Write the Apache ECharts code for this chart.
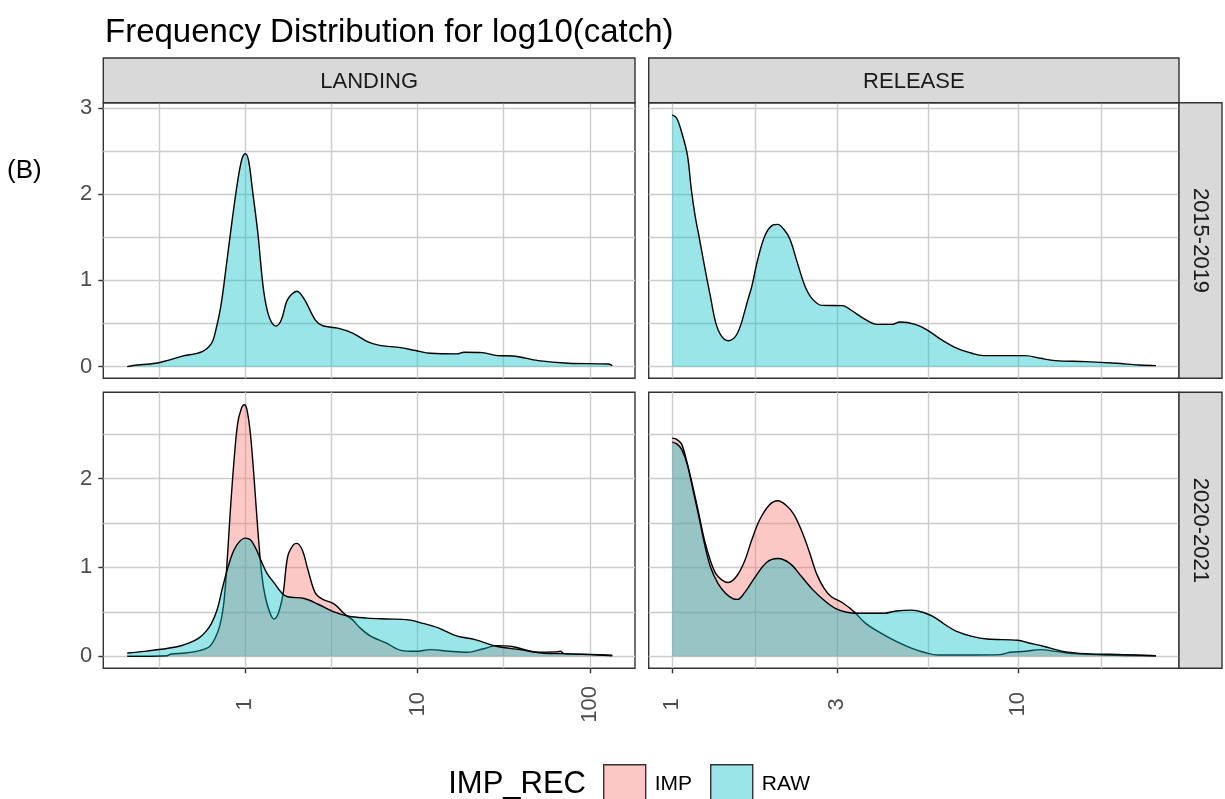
<!DOCTYPE html>
<html>
<head>
<meta charset="utf-8">
<title>Frequency Distribution for log10(catch)</title>
<script src="https://cdn.jsdelivr.net/npm/echarts@6/dist/echarts.min.js"></script>
<style>
  html, body { margin: 0; padding: 0; background: #ffffff; }
  #chart { width: 1225px; height: 799px; }
</style>
</head>
<body>
<div id="chart"></div>
<script>
// Density of log10(catch) by disposition (columns) and period (rows),
// imputed (IMP) versus raw (RAW) records.
const columns = ['LANDING', 'RELEASE'];
const periods = ['2015-2019', '2020-2021'];
const groups = ['IMP', 'RAW'];

// Breaks on the catch scale (log10 axis); gridlines also sit halfway between breaks
const landingBreaks = [0.1, 1, 10, 100, 1000];
const releaseBreaks = [1, 3, 10, 30];
const landingLabels = [1, 10, 100];
const releaseLabels = [1, 3, 10];
const densityBreaks = [0, 1, 2, 3];

// Each point: [log10(catch), density]
const landingRaw1519 = [
  [-0.685, 0.0], [-0.65, 0.014], [-0.52, 0.04], [-0.455, 0.07], [-0.37, 0.12],
  [-0.25, 0.175], [-0.196, 0.27], [-0.175, 0.39], [-0.142, 0.70], [-0.11, 1.17],
  [-0.078, 1.67], [-0.045, 2.14], [-0.019, 2.41], [0.0, 2.47], [0.019, 2.39],
  [0.041, 2.06], [0.073, 1.55], [0.106, 0.89], [0.138, 0.58], [0.177, 0.47],
  [0.209, 0.54], [0.246, 0.78], [0.30, 0.875], [0.343, 0.78], [0.407, 0.54],
  [0.45, 0.474], [0.537, 0.447], [0.623, 0.39], [0.709, 0.29], [0.774, 0.25],
  [0.903, 0.22], [0.989, 0.187], [1.075, 0.155], [1.226, 0.148], [1.27, 0.167],
  [1.377, 0.163], [1.463, 0.128], [1.55, 0.124], [1.70, 0.07], [1.873, 0.04],
  [2.11, 0.03], [2.13, 0.012]
];
const releaseRaw1519 = [
  [0.0, 2.92], [0.013, 2.88], [0.027, 2.72], [0.044, 2.45], [0.055, 2.06],
  [0.066, 1.75], [0.077, 1.52], [0.093, 1.17], [0.11, 0.82], [0.126, 0.505],
  [0.143, 0.35], [0.162, 0.30], [0.175, 0.32], [0.186, 0.37], [0.197, 0.47],
  [0.208, 0.62], [0.219, 0.78], [0.23, 0.93], [0.247, 1.24], [0.268, 1.52],
  [0.29, 1.64], [0.305, 1.65], [0.323, 1.59], [0.34, 1.48], [0.362, 1.20],
  [0.384, 0.93], [0.406, 0.78], [0.433, 0.71], [0.493, 0.707], [0.515, 0.66],
  [0.559, 0.544], [0.592, 0.49], [0.636, 0.49], [0.658, 0.517], [0.702, 0.49],
  [0.735, 0.43], [0.779, 0.31], [0.822, 0.214], [0.866, 0.155], [0.899, 0.128],
  [1.02, 0.128], [1.064, 0.097], [1.107, 0.07], [1.195, 0.058], [1.283, 0.039],
  [1.349, 0.019], [1.398, 0.012]
];
const landingImp2021 = [
  [-0.685, 0.0], [-0.455, 0.007], [-0.43, 0.026], [-0.347, 0.037], [-0.26, 0.067],
  [-0.207, 0.11], [-0.175, 0.205], [-0.149, 0.336], [-0.127, 0.56], [-0.11, 0.93],
  [-0.088, 1.60], [-0.067, 2.16], [-0.045, 2.61], [-0.024, 2.78], [-0.006, 2.83],
  [0.009, 2.78], [0.03, 2.5], [0.052, 1.98], [0.073, 1.42], [0.095, 0.93],
  [0.116, 0.67], [0.144, 0.485], [0.166, 0.42], [0.192, 0.485], [0.22, 0.71],
  [0.246, 1.12], [0.278, 1.25], [0.30, 1.27], [0.332, 1.19], [0.364, 0.97],
  [0.407, 0.71], [0.45, 0.64], [0.515, 0.59], [0.58, 0.47], [0.623, 0.41],
  [0.666, 0.32], [0.73, 0.224], [0.817, 0.15], [0.903, 0.067], [0.989, 0.056],
  [1.075, 0.075], [1.183, 0.056], [1.29, 0.045], [1.377, 0.082], [1.463, 0.12],
  [1.55, 0.11], [1.70, 0.045], [1.80, 0.05], [1.83, 0.056], [1.85, 0.03],
  [2.0, 0.022], [2.13, 0.011]
];
const landingRaw2021 = [
  [-0.685, 0.037], [-0.584, 0.056], [-0.476, 0.082], [-0.39, 0.11], [-0.325, 0.15],
  [-0.27, 0.205], [-0.228, 0.28], [-0.196, 0.37], [-0.164, 0.52], [-0.131, 0.78],
  [-0.099, 1.01], [-0.067, 1.19], [-0.034, 1.29], [0.0, 1.33], [0.03, 1.31],
  [0.062, 1.21], [0.095, 1.06], [0.127, 0.93], [0.17, 0.82], [0.213, 0.71],
  [0.246, 0.67], [0.343, 0.65], [0.429, 0.58], [0.515, 0.50], [0.601, 0.45],
  [0.709, 0.43], [0.817, 0.42], [0.946, 0.41], [1.032, 0.37], [1.12, 0.32],
  [1.226, 0.23], [1.334, 0.187], [1.463, 0.11], [1.593, 0.075], [1.722, 0.037],
  [1.83, 0.03], [2.0, 0.019], [2.13, 0.007]
];
const releaseImp2021 = [
  [0.0, 2.455], [0.013, 2.44], [0.027, 2.39], [0.044, 2.16], [0.06, 1.90],
  [0.077, 1.60], [0.093, 1.31], [0.11, 1.08], [0.126, 0.93], [0.143, 0.86],
  [0.162, 0.83], [0.186, 0.90], [0.208, 1.06], [0.23, 1.31], [0.252, 1.53],
  [0.28, 1.70], [0.305, 1.75], [0.329, 1.70], [0.351, 1.60], [0.373, 1.42],
  [0.395, 1.19], [0.417, 0.93], [0.439, 0.765], [0.46, 0.67], [0.493, 0.60],
  [0.526, 0.50], [0.559, 0.37], [0.603, 0.26], [0.647, 0.168], [0.691, 0.093],
  [0.735, 0.037], [0.768, 0.015], [0.866, 0.015], [0.948, 0.019], [0.976, 0.045],
  [1.02, 0.056], [1.064, 0.075], [1.107, 0.056], [1.162, 0.03], [1.25, 0.015],
  [1.398, 0.007]
];
const releaseRaw2021 = [
  [0.0, 2.41], [0.013, 2.39], [0.027, 2.33], [0.044, 2.15], [0.06, 1.87],
  [0.077, 1.57], [0.093, 1.27], [0.11, 1.01], [0.132, 0.82], [0.154, 0.71],
  [0.175, 0.65], [0.189, 0.64], [0.208, 0.71], [0.241, 0.90], [0.274, 1.06],
  [0.305, 1.10], [0.34, 1.045], [0.373, 0.90], [0.406, 0.75], [0.439, 0.63],
  [0.471, 0.54], [0.504, 0.496], [0.537, 0.485], [0.614, 0.485], [0.647, 0.51],
  [0.691, 0.52], [0.724, 0.496], [0.757, 0.44], [0.789, 0.355], [0.822, 0.28],
  [0.866, 0.224], [0.91, 0.194], [0.998, 0.18], [1.031, 0.15], [1.075, 0.11],
  [1.129, 0.056], [1.195, 0.03], [1.305, 0.019], [1.398, 0.007]
];

// panel data: [row][col] -> { group: points }
const panels = [
  [{ RAW: landingRaw1519 }, { RAW: releaseRaw1519 }],
  [{ IMP: landingImp2021, RAW: landingRaw2021 }, { IMP: releaseImp2021, RAW: releaseRaw2021 }]
];

// ---- layout & style ----
const FONT = '"Liberation Sans", Arial, Helvetica, sans-serif';
const colX = [103.3, 648.7], colW = [531.7, 530.3];
const rowY = [102.7, 392.3], rowH = [275.6, 276];
const stripTop = 58, stripW = 43;
const xRange = [[-0.824, 2.262], [-0.068, 1.4645]];
const yRange = [[-0.135, 3.06], [-0.135, 2.97]];
const BORDER = '#333333', GRID = '#CCCCCC', AXIS_TEXT = '#4D4D4D';
const FILL = { IMP: 'rgba(248,118,109,0.4)', RAW: 'rgba(0,191,196,0.4)' };

const inRange = (vals, r) => vals.filter(v => v >= r[0] - 1e-9 && v <= r[1] + 1e-9);
function withMidpoints(majors) {
  const out = majors.slice();
  for (let i = 0; i + 1 < majors.length; i++) out.push((majors[i] + majors[i + 1]) / 2);
  return out.sort((a, b) => a - b);
}
const xBreaks = [landingBreaks, releaseBreaks].map(b => b.map(Math.log10));
const xLabelVals = [landingLabels, releaseLabels].map(b => b.map(Math.log10));
const hiddenLine = { show: false, onZero: false };

const grids = [], xAxes = [], yAxes = [], series = [], tickX = [], tickY = [];
for (let r = 0; r < 2; r++) {
  for (let c = 0; c < 2; c++) {
    const i = r * 2 + c;
    grids.push({
      left: colX[c], top: rowY[r], width: colW[c], height: rowH[r],
      show: true, backgroundColor: '#ffffff', borderColor: BORDER, borderWidth: 1.4,
      containLabel: false, outerBoundsMode: 'none'
    });
    const xr = xRange[c], yr = yRange[r];
    const xGrid = inRange(withMidpoints(xBreaks[c]), xr);
    const xLab = inRange(xLabelVals[c], xr);
    const yGrid = inRange(withMidpoints(densityBreaks), yr);
    const yLab = inRange(densityBreaks, yr);

    xAxes.push({
      type: 'value', gridIndex: i, min: xr[0], max: xr[1], position: 'bottom',
      axisLine: hiddenLine,
      axisTick: { show: false, customValues: xGrid },
      splitLine: { show: true, lineStyle: { color: GRID, width: 1.4 } },
      axisLabel: r === 1 ? {
        show: true, customValues: xLab, rotate: 90, margin: 36,
        align: 'center', verticalAlign: 'middle',
        fontSize: 22, fontFamily: FONT, color: AXIS_TEXT,
        formatter: v => String(Math.round(Math.pow(10, v)))
      } : { show: false }
    });
    yAxes.push({
      type: 'value', gridIndex: i, min: yr[0], max: yr[1], position: 'left',
      axisLine: hiddenLine,
      axisTick: { show: false, customValues: yGrid },
      splitLine: { show: true, lineStyle: { color: GRID, width: 1.4 } },
      axisLabel: c === 0 ? {
        show: true, customValues: yLab, margin: 11,
        fontSize: 22, fontFamily: FONT, color: AXIS_TEXT,
        formatter: v => String(v)
      } : { show: false }
    });
    if (r === 1) tickX.push({ i, xr, vals: xLab });
    if (c === 0) tickY.push({ i, yr, vals: yLab });

    for (const g of groups) {
      const pts = panels[r][c][g];
      if (!pts) continue;
      series.push({
        type: 'line', name: g, data: pts, xAxisIndex: i, yAxisIndex: i,
        symbol: 'none', showSymbol: false, smooth: 0.35,
        lineStyle: { color: '#000000', width: 1.4 },
        itemStyle: { color: FILL[g] },
        areaStyle: { color: FILL[g], opacity: 1 },
        z: g === 'RAW' ? 3 : 2, silent: true
      });
    }
  }
}
// separate axes carrying only the outward tick marks at labelled breaks
for (const t of tickX) {
  xAxes.push({
    type: 'value', gridIndex: t.i, min: t.xr[0], max: t.xr[1], position: 'bottom',
    axisLine: hiddenLine, splitLine: { show: false }, axisLabel: { show: false },
    axisTick: { show: true, length: 5, customValues: t.vals, lineStyle: { color: BORDER, width: 1.4 } }
  });
}
for (const t of tickY) {
  yAxes.push({
    type: 'value', gridIndex: t.i, min: t.yr[0], max: t.yr[1], position: 'left',
    axisLine: hiddenLine, splitLine: { show: false }, axisLabel: { show: false },
    axisTick: { show: true, length: 5, customValues: t.vals, lineStyle: { color: BORDER, width: 1.4 } }
  });
}

// facet strips
const graphics = [];
columns.forEach((name, c) => {
  graphics.push({
    type: 'rect', shape: { x: colX[c], y: stripTop, width: colW[c], height: rowY[0] - stripTop },
    style: { fill: '#D9D9D9', stroke: BORDER, lineWidth: 1.4 }, z: 10
  });
  graphics.push({
    type: 'text', x: colX[c] + colW[c] / 2, y: (stripTop + rowY[0]) / 2 + 2,
    style: { text: name, align: 'center', verticalAlign: 'middle', fontSize: 22, fontFamily: FONT, fill: '#1A1A1A' }, z: 11
  });
});
periods.forEach((name, r) => {
  const sx = colX[1] + colW[1];
  graphics.push({
    type: 'rect', shape: { x: sx, y: rowY[r], width: stripW, height: rowH[r] },
    style: { fill: '#D9D9D9', stroke: BORDER, lineWidth: 1.4 }, z: 10
  });
  graphics.push({
    type: 'text', x: sx + stripW / 2, y: rowY[r] + rowH[r] / 2, rotation: -Math.PI / 2,
    style: { text: name, align: 'center', verticalAlign: 'middle', fontSize: 22, fontFamily: FONT, fill: '#1A1A1A' }, z: 11
  });
});
// tag and legend title
graphics.push({
  type: 'text', x: 7, y: 171,
  style: { text: '(B)', align: 'left', verticalAlign: 'middle', fontSize: 26, fontFamily: FONT, fill: '#000000' }
});
graphics.push({
  type: 'text', x: 586, y: 784,
  style: { text: 'IMP_REC', align: 'right', verticalAlign: 'middle', fontSize: 31, fontFamily: FONT, fill: '#000000' }
});

const chart = echarts.init(document.getElementById('chart'), null, { renderer: 'canvas' });
chart.setOption({
  animation: false,
  backgroundColor: '#ffffff',
  title: {
    text: 'Frequency Distribution for log10(catch)', left: 105, top: 16, padding: 0,
    textStyle: { fontSize: 33, fontWeight: 'normal', fontFamily: FONT, color: '#000000' }
  },
  legend: {
    left: 603, top: 764, orient: 'horizontal', selectedMode: false, padding: 0,
    itemWidth: 42, itemHeight: 40, itemGap: 18, icon: 'rect',
    data: groups.map(g => ({ name: g, itemStyle: { color: FILL[g], borderColor: BORDER, borderWidth: 1.4 } })),
    textStyle: { fontSize: 21, fontFamily: FONT, color: '#000000', padding: [0, 0, 0, 4] }
  },
  grid: grids,
  xAxis: xAxes,
  yAxis: yAxes,
  series: series,
  graphic: graphics
});
</script>
</body>
</html>
